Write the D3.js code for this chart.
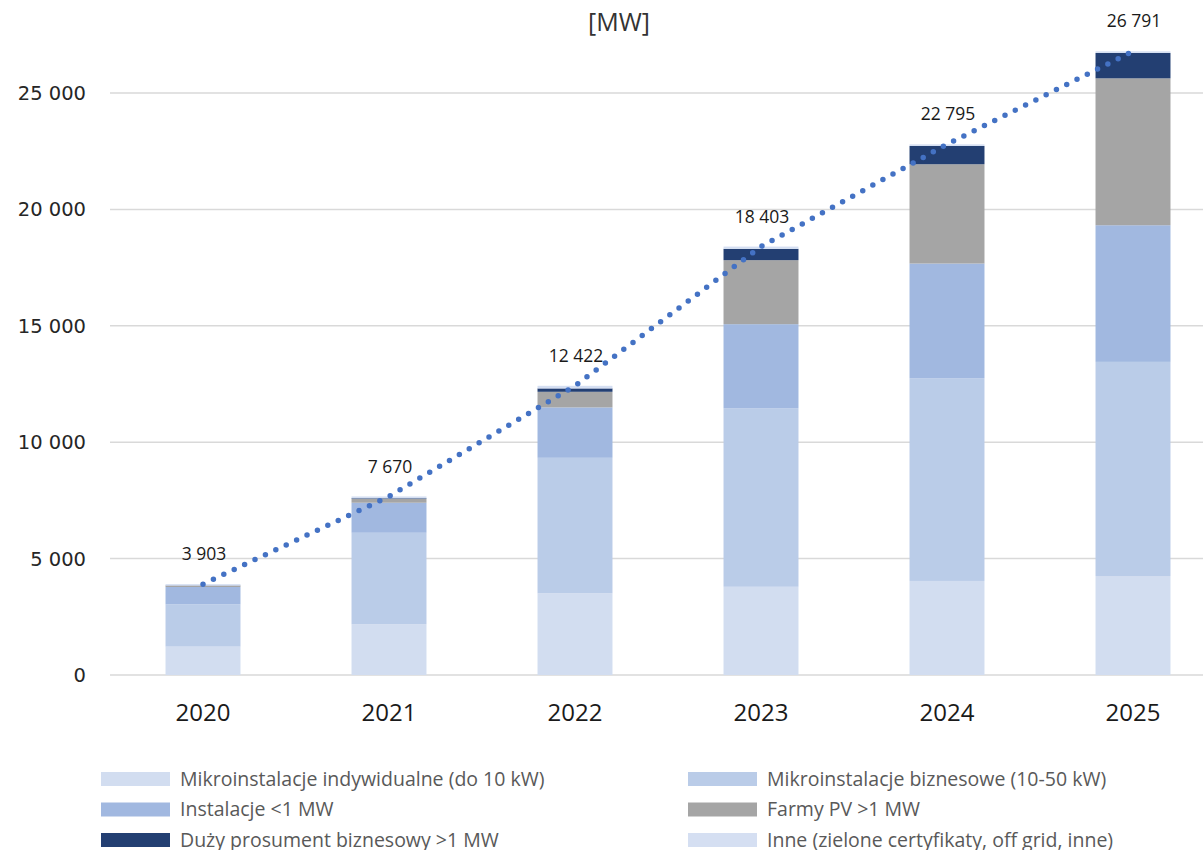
<!DOCTYPE html>
<html>
<head>
<meta charset="utf-8">
<script src="https://cdn.jsdelivr.net/npm/d3@7"></script>
<style>
  body { margin: 0; background: #fff; }
  svg { display: block; }
</style>
</head>
<body>
<svg id="chart" width="1203" height="850"></svg>
<script>
// data [MW]
const years = ["2020", "2021", "2022", "2023", "2024", "2025"];
const mikroIndyw = [1220, 2180, 3510, 3790, 4040, 4250];
const mikroBiznes = [1815, 3930, 5820, 7670, 8710, 9200];
const instalacje = [745, 1290, 2165, 3610, 4925, 5870];
const farmy = [55, 160, 670, 2750, 4265, 6310];
const duzyProsument = [10, 30, 145, 485, 785, 1090];
const inne = [58, 80, 112, 98, 70, 71];
const totals = [3903, 7670, 12422, 18403, 22795, 26791];
const yTicks = [0, 5000, 10000, 15000, 20000, 25000];

const seriesNames = [
  "Mikroinstalacje indywidualne (do 10 kW)",
  "Mikroinstalacje biznesowe (10-50 kW)",
  "Instalacje <1 MW",
  "Farmy PV >1 MW",
  "Duży prosument biznesowy >1 MW",
  "Inne (zielone certyfikaty, off grid, inne)"
];
const colors = ["#d2ddf0", "#bacce8", "#a1b8e0", "#a5a5a5", "#233f72", "#d5dff2"];

const rows = years.map((y, i) => ({
  year: y,
  s0: mikroIndyw[i], s1: mikroBiznes[i], s2: instalacje[i],
  s3: farmy[i], s4: duzyProsument[i], s5: inne[i], total: totals[i]
}));
const keys = ["s0", "s1", "s2", "s3", "s4", "s5"];

var svg = d3.select("#chart");

var x = d3.scaleBand()
  .domain(years)
  .range([110, 1226])
  .paddingInner(0.597)
  .paddingOuter(0.2985);

var y = d3.scaleLinear().domain([0, 25000]).range([675, 93]);

// gridlines
svg.append("g")
  .selectAll("line")
  .data(yTicks)
  .enter()
  .append("line")
  .attr("x1", 110)
  .attr("x2", 1203)
  .attr("y1", (d) => y(d))
  .attr("y2", (d) => y(d))
  .attr("stroke", "#d9d9d9")
  .attr("stroke-width", 1.5);

// y tick labels
svg.append("g")
  .selectAll("text")
  .data(yTicks)
  .enter()
  .append("text")
  .attr("x", 86)
  .attr("y", (d) => y(d))
  .attr("dy", "0.36em")
  .attr("text-anchor", "end")
  .style("font-family", "'DejaVu Sans', Verdana, sans-serif")
  .style("font-size", "19.5px")
  .attr("fill", "#262626")
  .text((d) => d3.format(",")(d).replace(/,/g, " "));

// stacked bars
var stack = d3.stack().keys(keys)(rows);
svg.append("g")
  .selectAll("g")
  .data(stack)
  .enter()
  .append("g")
  .attr("fill", (d, i) => colors[i])
  .selectAll("rect")
  .data((d) => d)
  .enter()
  .append("rect")
  .attr("x", (d) => x(d.data.year))
  .attr("width", x.bandwidth())
  .attr("y", (d) => y(d[1]))
  .attr("height", (d) => y(d[0]) - y(d[1]));

// year labels
svg.append("g")
  .selectAll("text")
  .data(years)
  .enter()
  .append("text")
  .attr("x", (d) => x(d) + x.bandwidth() / 2)
  .attr("y", 721)
  .attr("text-anchor", "middle")
  .style("font-family", "'Open Sans', sans-serif")
  .style("font-size", "24px")
  .attr("fill", "#1a1a1a")
  .text((d) => d);

// dotted total line
var line = d3.line()
  .x((d) => x(d.year) + x.bandwidth() / 2)
  .y((d) => y(d.total));

svg.append("path")
  .datum(rows)
  .attr("d", line)
  .attr("fill", "none")
  .attr("stroke", "#4472c4")
  .attr("stroke-width", 5.5)
  .attr("stroke-linecap", "round")
  .attr("stroke-dasharray", "0,11.5");

// total labels
svg.append("g")
  .selectAll("text")
  .data(rows)
  .enter()
  .append("text")
  .attr("x", (d) => x(d.year) + x.bandwidth() / 2 + 1)
  .attr("y", (d) => y(d.total) - 30)
  .attr("dy", "0.35em")
  .attr("text-anchor", "middle")
  .style("font-family", "'Open Sans', sans-serif")
  .style("font-size", "17.5px")
  .attr("fill", "#1a1a1a")
  .text((d) => d3.format(",")(d.total).replace(/,/g, " "));

// title (second line visible)
svg.append("text")
  .attr("x", 619)
  .attr("y", 22)
  .attr("dy", "0.35em")
  .attr("text-anchor", "middle")
  .style("font-family", "'Open Sans', sans-serif")
  .style("font-size", "25px")
  .attr("fill", "#333")
  .text("[MW]");

// legend
var legend = svg.append("g")
  .selectAll("g")
  .data(seriesNames)
  .enter()
  .append("g")
  .attr("transform", (d, i) =>
    "translate(" + (i % 2 === 0 ? 101 : 688) + "," + (779 + Math.floor(i / 2) * 30.5) + ")");

legend.append("rect")
  .attr("x", 0)
  .attr("y", -7)
  .attr("width", 69)
  .attr("height", 14)
  .attr("fill", (d, i) => colors[i]);

legend.append("text")
  .attr("x", 79)
  .attr("y", 0)
  .attr("dy", "0.35em")
  .style("font-family", "'Open Sans', sans-serif")
  .style("font-size", "19.5px")
  .attr("fill", "#595959")
  .text((d) => d);
</script>
</body>
</html>
